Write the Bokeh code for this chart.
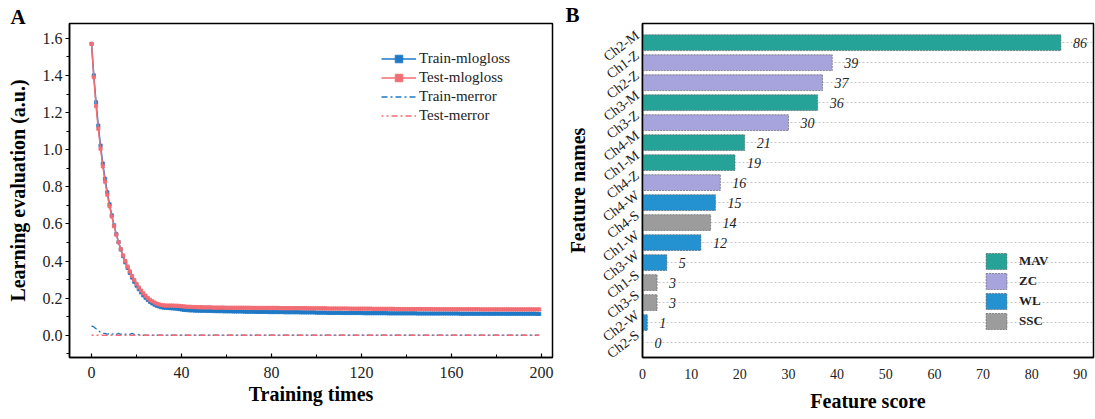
import math
from bokeh.plotting import figure
from bokeh.layouts import row
from bokeh.models import (ColumnDataSource, Legend, LegendItem, Title, FixedTicker,
                          SingleIntervalTicker, Range1d, NumeralTickFormatter)
from bokeh.core.properties import value
from bokeh.embed import file_html
from bokeh.resources import INLINE

# ---------------- Panel A data ----------------
iterations = list(range(200))

train_mlogloss = [
    1.570, 1.400, 1.255, 1.130, 1.022, 0.925, 0.843, 0.770, 0.705, 0.646,
    0.592, 0.545, 0.502, 0.462, 0.426, 0.393, 0.363, 0.336, 0.311, 0.288,
    0.267, 0.248, 0.231, 0.215, 0.202, 0.190, 0.180, 0.172, 0.165, 0.159,
    0.155, 0.151, 0.149, 0.148, 0.147, 0.146, 0.145, 0.144, 0.143, 0.141,
    0.139, 0.137, 0.136, 0.135, 0.134, 0.134, 0.133, 0.133, 0.132, 0.132,
    0.132, 0.132, 0.131, 0.131, 0.131, 0.130, 0.130, 0.130, 0.130, 0.129,
    0.129, 0.129, 0.129, 0.128, 0.128, 0.128, 0.128, 0.128, 0.127, 0.127,
    0.127, 0.127, 0.127, 0.126, 0.126, 0.126, 0.126, 0.126, 0.126, 0.125,
    0.125, 0.125, 0.125, 0.125, 0.125, 0.125, 0.124, 0.124, 0.124, 0.124,
    0.124, 0.124, 0.124, 0.123, 0.123, 0.123, 0.123, 0.123, 0.123, 0.123,
    0.122, 0.122, 0.122, 0.122, 0.122, 0.121, 0.121, 0.121, 0.121, 0.121,
    0.121, 0.121, 0.120, 0.120, 0.120, 0.120, 0.120, 0.120, 0.120, 0.120,
    0.120, 0.119, 0.119, 0.119, 0.119, 0.119, 0.119, 0.119, 0.119, 0.119,
    0.119, 0.119, 0.118, 0.118, 0.118, 0.118, 0.118, 0.118, 0.118, 0.118,
    0.118, 0.118, 0.118, 0.118, 0.118, 0.117, 0.117, 0.117, 0.117, 0.117,
    0.117, 0.117, 0.117, 0.117, 0.117, 0.117, 0.117, 0.117, 0.117, 0.117,
    0.117, 0.117, 0.117, 0.117, 0.116, 0.116, 0.116, 0.116, 0.116, 0.116,
    0.116, 0.116, 0.116, 0.116, 0.116, 0.116, 0.116, 0.116, 0.116, 0.116,
    0.116, 0.116, 0.116, 0.116, 0.116, 0.116, 0.116, 0.116, 0.116, 0.116,
    0.116, 0.116, 0.116, 0.116, 0.116, 0.116, 0.116, 0.116, 0.115, 0.115,
]

test_mlogloss = [
    1.570, 1.390, 1.235, 1.113, 1.005, 0.910, 0.828, 0.757, 0.695, 0.640,
    0.588, 0.542, 0.501, 0.464, 0.430, 0.399, 0.370, 0.344, 0.320, 0.298,
    0.277, 0.258, 0.241, 0.226, 0.213, 0.201, 0.191, 0.183, 0.176, 0.170,
    0.166, 0.163, 0.161, 0.160, 0.160, 0.160, 0.160, 0.159, 0.159, 0.158,
    0.157, 0.155, 0.154, 0.153, 0.153, 0.152, 0.152, 0.151, 0.151, 0.151,
    0.150, 0.150, 0.150, 0.150, 0.149, 0.149, 0.149, 0.149, 0.149, 0.149,
    0.148, 0.148, 0.148, 0.148, 0.148, 0.148, 0.148, 0.148, 0.148, 0.148,
    0.148, 0.147, 0.147, 0.147, 0.147, 0.147, 0.147, 0.147, 0.147, 0.147,
    0.147, 0.147, 0.147, 0.147, 0.146, 0.146, 0.146, 0.146, 0.146, 0.146,
    0.146, 0.146, 0.146, 0.146, 0.146, 0.146, 0.145, 0.145, 0.145, 0.145,
    0.145, 0.145, 0.145, 0.145, 0.145, 0.144, 0.144, 0.144, 0.144, 0.144,
    0.144, 0.144, 0.144, 0.144, 0.144, 0.143, 0.143, 0.143, 0.143, 0.143,
    0.143, 0.143, 0.143, 0.143, 0.143, 0.142, 0.142, 0.142, 0.142, 0.142,
    0.142, 0.142, 0.142, 0.142, 0.142, 0.141, 0.141, 0.141, 0.141, 0.141,
    0.141, 0.141, 0.141, 0.141, 0.141, 0.141, 0.141, 0.141, 0.141, 0.141,
    0.141, 0.141, 0.140, 0.140, 0.140, 0.140, 0.140, 0.140, 0.140, 0.140,
    0.140, 0.140, 0.140, 0.140, 0.140, 0.140, 0.140, 0.140, 0.140, 0.140,
    0.140, 0.140, 0.140, 0.139, 0.139, 0.139, 0.139, 0.139, 0.139, 0.139,
    0.139, 0.139, 0.139, 0.139, 0.139, 0.139, 0.139, 0.139, 0.139, 0.139,
    0.139, 0.139, 0.139, 0.139, 0.139, 0.139, 0.139, 0.139, 0.139, 0.139,
]

train_merror = [
    0.050, 0.045, 0.035, 0.025, 0.015, 0.010, 0.010, 0.005, 0.010, 0.005,
    0.010, 0.005, 0.010, 0.005, 0.010, 0.005, 0.010, 0.005, 0.010, 0.005,
    0.005, 0.003, 0.0, 0.0, 0.0, 0.0, 0.0, 0.0, 0.0, 0.0,
    0.0, 0.0, 0.0, 0.0, 0.0, 0.0, 0.0, 0.0, 0.0, 0.0,
    0.0, 0.0, 0.0, 0.0, 0.0, 0.0, 0.0, 0.0, 0.0, 0.0,
    0.0, 0.0, 0.0, 0.0, 0.0, 0.0, 0.0, 0.0, 0.0, 0.0,
    0.0, 0.0, 0.0, 0.0, 0.0, 0.0, 0.0, 0.0, 0.0, 0.0,
    0.0, 0.0, 0.0, 0.0, 0.0, 0.0, 0.0, 0.0, 0.0, 0.0,
    0.0, 0.0, 0.0, 0.0, 0.0, 0.0, 0.0, 0.0, 0.0, 0.0,
    0.0, 0.0, 0.0, 0.0, 0.0, 0.0, 0.0, 0.0, 0.0, 0.0,
    0.0, 0.0, 0.0, 0.0, 0.0, 0.0, 0.0, 0.0, 0.0, 0.0,
    0.0, 0.0, 0.0, 0.0, 0.0, 0.0, 0.0, 0.0, 0.0, 0.0,
    0.0, 0.0, 0.0, 0.0, 0.0, 0.0, 0.0, 0.0, 0.0, 0.0,
    0.0, 0.0, 0.0, 0.0, 0.0, 0.0, 0.0, 0.0, 0.0, 0.0,
    0.0, 0.0, 0.0, 0.0, 0.0, 0.0, 0.0, 0.0, 0.0, 0.0,
    0.0, 0.0, 0.0, 0.0, 0.0, 0.0, 0.0, 0.0, 0.0, 0.0,
    0.0, 0.0, 0.0, 0.0, 0.0, 0.0, 0.0, 0.0, 0.0, 0.0,
    0.0, 0.0, 0.0, 0.0, 0.0, 0.0, 0.0, 0.0, 0.0, 0.0,
    0.0, 0.0, 0.0, 0.0, 0.0, 0.0, 0.0, 0.0, 0.0, 0.0,
    0.0, 0.0, 0.0, 0.0, 0.0, 0.0, 0.0, 0.0, 0.0, 0.0,
]

test_merror = [
    0.0, 0.0, 0.0, 0.0, 0.0, 0.0, 0.0, 0.0, 0.0, 0.0, 0.0, 0.0, 0.0, 0.0, 0.0, 0.0, 0.0, 0.0, 0.0, 0.0,
    0.0, 0.0, 0.0, 0.0, 0.0, 0.0, 0.0, 0.0, 0.0, 0.0, 0.0, 0.0, 0.0, 0.0, 0.0, 0.0, 0.0, 0.0, 0.0, 0.0,
    0.0, 0.0, 0.0, 0.0, 0.0, 0.0, 0.0, 0.0, 0.0, 0.0, 0.0, 0.0, 0.0, 0.0, 0.0, 0.0, 0.0, 0.0, 0.0, 0.0,
    0.0, 0.0, 0.0, 0.0, 0.0, 0.0, 0.0, 0.0, 0.0, 0.0, 0.0, 0.0, 0.0, 0.0, 0.0, 0.0, 0.0, 0.0, 0.0, 0.0,
    0.0, 0.0, 0.0, 0.0, 0.0, 0.0, 0.0, 0.0, 0.0, 0.0, 0.0, 0.0, 0.0, 0.0, 0.0, 0.0, 0.0, 0.0, 0.0, 0.0,
    0.0, 0.0, 0.0, 0.0, 0.0, 0.0, 0.0, 0.0, 0.0, 0.0, 0.0, 0.0, 0.0, 0.0, 0.0, 0.0, 0.0, 0.0, 0.0, 0.0,
    0.0, 0.0, 0.0, 0.0, 0.0, 0.0, 0.0, 0.0, 0.0, 0.0, 0.0, 0.0, 0.0, 0.0, 0.0, 0.0, 0.0, 0.0, 0.0, 0.0,
    0.0, 0.0, 0.0, 0.0, 0.0, 0.0, 0.0, 0.0, 0.0, 0.0, 0.0, 0.0, 0.0, 0.0, 0.0, 0.0, 0.0, 0.0, 0.0, 0.0,
    0.0, 0.0, 0.0, 0.0, 0.0, 0.0, 0.0, 0.0, 0.0, 0.0, 0.0, 0.0, 0.0, 0.0, 0.0, 0.0, 0.0, 0.0, 0.0, 0.0,
    0.0, 0.0, 0.0, 0.0, 0.0, 0.0, 0.0, 0.0, 0.0, 0.0, 0.0, 0.0, 0.0, 0.0, 0.0, 0.0, 0.0, 0.0, 0.0, 0.0,
]

# ---------------- Panel B data ----------------
feature_names = ["Ch2-M", "Ch1-Z", "Ch2-Z", "Ch3-M", "Ch3-Z", "Ch4-M", "Ch1-M", "Ch4-Z",
                 "Ch4-W", "Ch4-S", "Ch1-W", "Ch3-W", "Ch1-S", "Ch3-S", "Ch2-W", "Ch2-S"]
feature_scores = [86, 39, 37, 36, 30, 21, 19, 16, 15, 14, 12, 5, 3, 3, 1, 0]
feature_groups = ["MAV", "ZC", "ZC", "MAV", "ZC", "MAV", "MAV", "ZC",
                  "WL", "SSC", "WL", "WL", "SSC", "SSC", "WL", "SSC"]
group_order = ["MAV", "ZC", "WL", "SSC"]
group_colors = {"MAV": "#25a398", "ZC": "#a7a3dd", "WL": "#2491d1", "SSC": "#9c9c9c"}

FONT = "Liberation Serif"
BLUE = "#1f7ac6"
RED = "#f26d74"


def panel_letter(text, offset, standoff):
    return Title(text=text, align="left", offset=offset, standoff=standoff,
                 text_font=FONT, text_font_style="bold", text_font_size="21px",
                 text_color="black", vertical_align="bottom")


# ================= Panel A =================
p1 = figure(width=560, height=419, output_backend="svg", toolbar_location=None,
            x_range=Range1d(-9.8, 204.9), y_range=Range1d(-0.12, 1.68),
            min_border_left=69, min_border_right=8, min_border_top=19, min_border_bottom=58)
p1.background_fill_color = "white"
p1.border_fill_color = "white"
p1.outline_line_color = "black"
p1.outline_line_width = 1.5
p1.xgrid.visible = False
p1.ygrid.visible = False

src = ColumnDataSource(dict(x=iterations, tl=train_mlogloss, vl=test_mlogloss,
                            te=train_merror, ve=test_merror))
r_tl = p1.line("x", "tl", source=src, line_color=BLUE, line_width=1.5)
s_tl = p1.scatter("x", "tl", source=src, marker="square", size=3.2,
                  fill_color=BLUE, line_color=BLUE, line_width=0.8)
r_vl = p1.line("x", "vl", source=src, line_color=RED, line_width=1.5)
s_vl = p1.scatter("x", "vl", source=src, marker="square", size=3.2,
                  fill_color=RED, line_color=RED, line_width=0.8)
r_te = p1.line("x", "te", source=src, line_color=BLUE, line_width=1.3, line_dash="6 3 2 3")
r_ve = p1.line("x", "ve", source=src, line_color=RED, line_width=1.3, line_dash="6 3 2 3",
               line_dash_offset=4)

leg1 = Legend(items=[
    LegendItem(label="Train-mlogloss", renderers=[r_tl, s_tl]),
    LegendItem(label="Test-mlogloss", renderers=[r_vl, s_vl]),
    LegendItem(label="Train-merror", renderers=[r_te]),
    LegendItem(label="Test-merror", renderers=[r_ve]),
], location=(312, 232))
leg1.padding = 0
leg1.margin = 0
leg1.spacing = 0
leg1.glyph_width = 35
leg1.glyph_height = 19
leg1.label_height = 19
leg1.label_standoff = 3
leg1.border_line_color = None
leg1.background_fill_alpha = 0
leg1.label_text_font = FONT
leg1.label_text_font_size = "15px"
leg1.label_text_color = "#222222"
p1.add_layout(leg1, "center")

xa = p1.xaxis[0]
xa.ticker = SingleIntervalTicker(interval=40, num_minor_ticks=2)
xa.axis_label = "Training times"
ya = p1.yaxis[0]
ya.ticker = SingleIntervalTicker(interval=0.2, num_minor_ticks=2)
ya.formatter = NumeralTickFormatter(format="0.0")
ya.axis_label = "Learning evaluation (a.u.)"
for ax in (xa, ya):
    ax.axis_line_width = 1.5
    ax.axis_line_color = "black"
    ax.major_tick_line_width = 1.2
    ax.minor_tick_line_width = 1.0
    ax.major_label_text_font = FONT
    ax.major_label_text_font_size = "16px"
    ax.major_label_text_color = "#222222"
    ax.axis_label_text_font = FONT
    ax.axis_label_text_font_style = "bold"
    ax.axis_label_text_font_size = "20px"
    ax.axis_label_text_color = "black"
xa.major_tick_in = 4
xa.major_tick_out = 0
xa.minor_tick_in = 3
xa.minor_tick_out = 0
xa.major_label_standoff = 9
xa.axis_label_standoff = 2
ya.major_tick_in = 0
ya.major_tick_out = 4
ya.minor_tick_in = 0
ya.minor_tick_out = 3
ya.major_label_standoff = 3
ya.axis_label_standoff = 11

p1.add_layout(panel_letter("A", -59, -11), "above")

# ================= Panel B =================
n = len(feature_names)
ypos = [n - 1 - i for i in range(n)]
label_pos = [v + 0.45 for v in ypos]

p2 = figure(width=535, height=419, output_backend="svg", toolbar_location=None,
            x_range=Range1d(0, 92.7), y_range=Range1d(-0.75, n - 1 + 0.96),
            min_border_left=82, min_border_right=2, min_border_top=23, min_border_bottom=62)
p2.background_fill_color = "white"
p2.border_fill_color = "white"
p2.outline_line_color = "black"
p2.outline_line_width = 1.5
p2.xgrid.visible = False
p2.ygrid.ticker = FixedTicker(ticks=ypos)
p2.ygrid.grid_line_color = "#b8b8b8"
p2.ygrid.grid_line_dash = "2 2"
p2.ygrid.grid_line_width = 0.8

legend_items = []
for g in group_order:
    idx = [i for i in range(n) if feature_groups[i] == g]
    gs = ColumnDataSource(dict(y=[ypos[i] for i in idx], s=[feature_scores[i] for i in idx]))
    r = p2.hbar(y="y", right="s", left=0, height=0.79, source=gs,
                fill_color=group_colors[g], line_color="#5a5a5a", line_width=0.8,
                line_dash="2 1", line_alpha=0.8)
    legend_items.append(LegendItem(label=g, renderers=[r]))

tsrc = ColumnDataSource(dict(x=feature_scores, y=ypos, t=[str(s) for s in feature_scores]))
p2.text(x="x", y="y", text="t", source=tsrc, x_offset=12, text_baseline="middle",
        text_align="left", text_font=value(FONT), text_font_style="italic",
        text_font_size="14px", text_color="#222222")

leg2 = Legend(items=legend_items, location=(341, 26))
leg2.padding = 0
leg2.margin = 0
leg2.spacing = 0
leg2.glyph_width = 26
leg2.glyph_height = 20
leg2.label_height = 20
leg2.label_standoff = 10
leg2.border_line_color = None
leg2.background_fill_alpha = 0
leg2.label_text_font = FONT
leg2.label_text_font_style = "bold"
leg2.label_text_font_size = "13px"
leg2.label_text_color = "#222222"
p2.add_layout(leg2, "center")

xb = p2.xaxis[0]
xb.ticker = FixedTicker(ticks=[0, 10, 20, 30, 40, 50, 60, 70, 80, 90])
xb.axis_label = "Feature score"
yb = p2.yaxis[0]
yb.ticker = FixedTicker(ticks=label_pos)
yb.major_label_overrides = {label_pos[i]: feature_names[i] for i in range(n)}
yb.major_label_orientation = math.radians(37)
yb.axis_label = "Feature names"
for ax in (xb, yb):
    ax.axis_line_width = 1.5
    ax.axis_line_color = "black"
    ax.major_tick_in = 0
    ax.major_tick_out = 0
    ax.minor_tick_in = 0
    ax.minor_tick_out = 0
    ax.major_label_text_font = FONT
    ax.major_label_text_color = "#222222"
    ax.axis_label_text_font = FONT
    ax.axis_label_text_font_style = "bold"
    ax.axis_label_text_font_size = "20px"
    ax.axis_label_text_color = "black"
xb.major_label_text_font_size = "14px"
xb.major_label_standoff = 11
xb.axis_label_standoff = 8
yb.major_label_text_font_size = "14px"
yb.major_label_standoff = 5
yb.axis_label_standoff = 4

p2.add_layout(panel_letter("B", -77, -7), "above")

layout = row(p1, p2)
open("out.html", "w").write(file_html(layout, INLINE))
